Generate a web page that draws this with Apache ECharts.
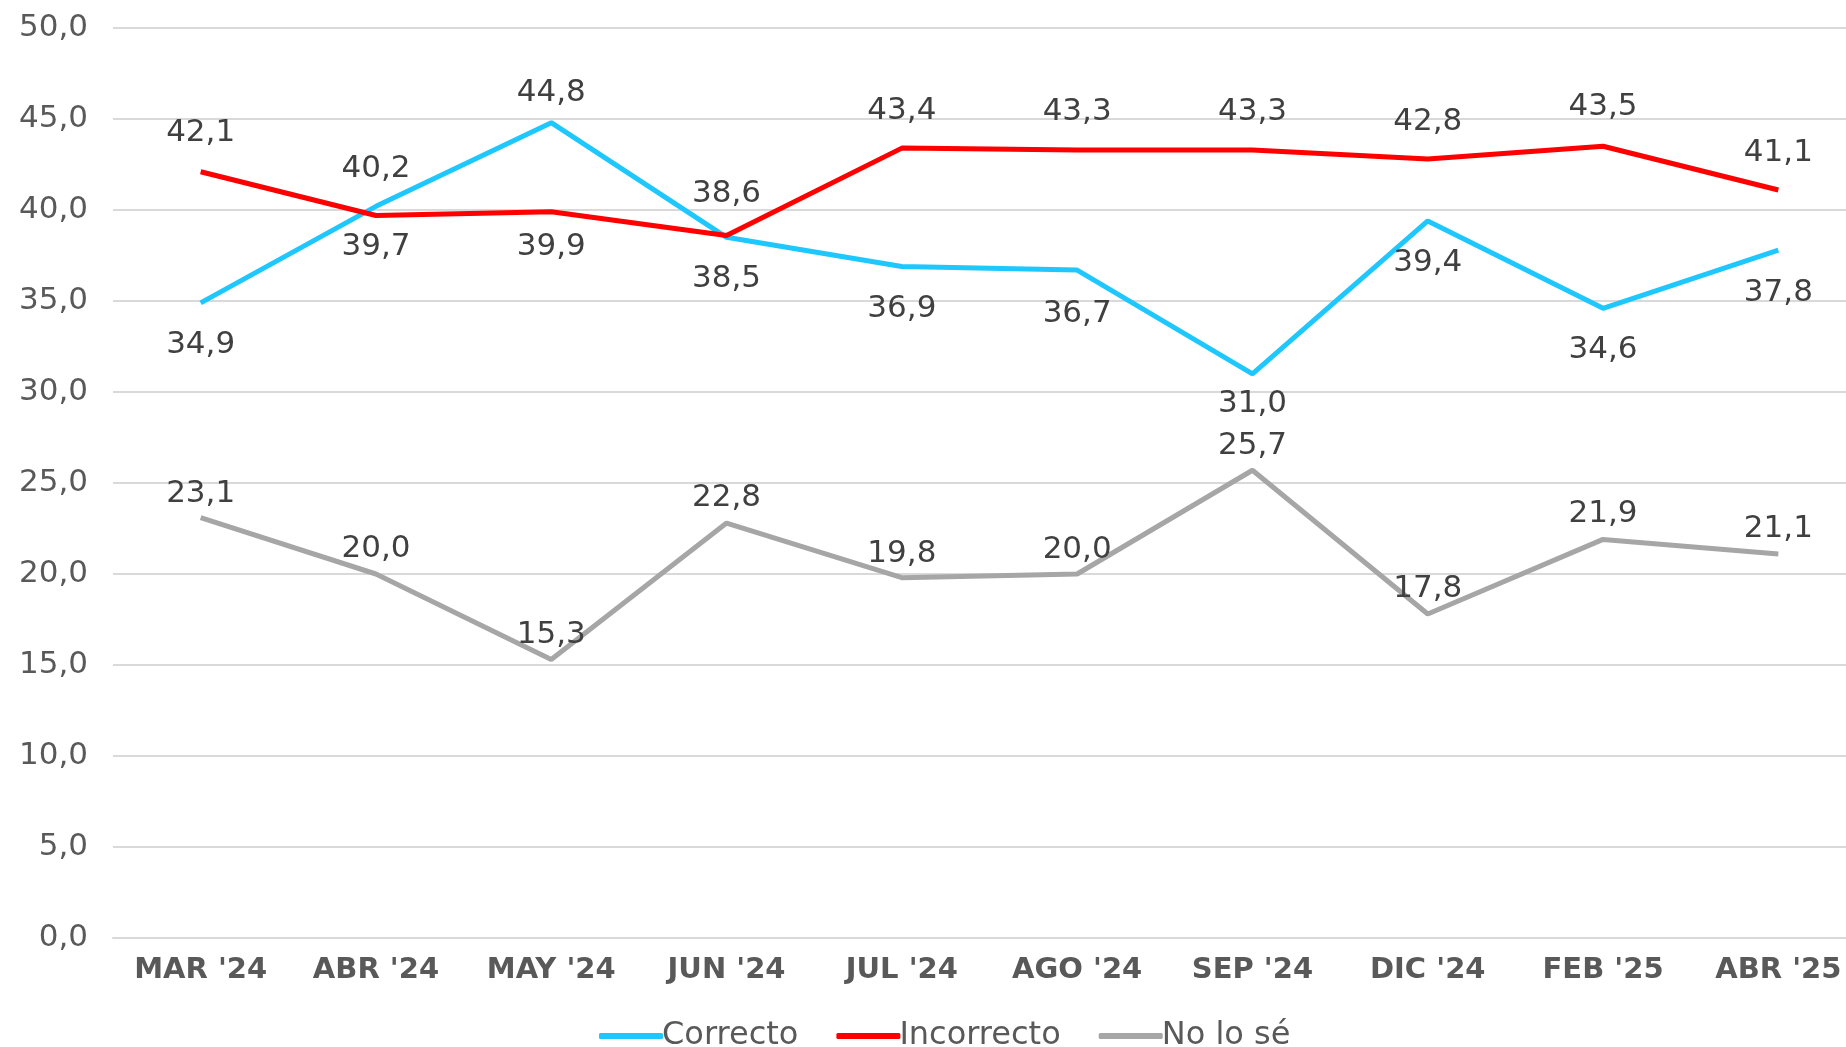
<!DOCTYPE html>
<html>
<head>
<meta charset="utf-8">
<script src="https://cdn.jsdelivr.net/npm/echarts@6/dist/echarts.min.js"></script>
<style>
  html, body { margin: 0; padding: 0; background: #fff; overflow: hidden; }
  /* el gráfico original corta la última categoría por la derecha */
  #chart { width: 1866px; height: 1047px; }
</style>
</head>
<body>
<div id="chart"></div>
<script>
// datos
var meses = ["MAR '24", "ABR '24", "MAY '24", "JUN '24", "JUL '24", "AGO '24", "SEP '24", "DIC '24", "FEB '25", "ABR '25"];
var correcto = [34.9, 40.2, 44.8, 38.5, 36.9, 36.7, 31.0, 39.4, 34.6, 37.8];
var incorrecto = [42.1, 39.7, 39.9, 38.6, 43.4, 43.3, 43.3, 42.8, 43.5, 41.1];
var noLoSe = [23.1, 20.0, 15.3, 22.8, 19.8, 20.0, 25.7, 17.8, 21.9, 21.1];

// etiquetas: lado y separación (px) de cada punto
var posCorrecto = ['bottom', 'top', 'top', 'bottom', 'bottom', 'bottom', 'bottom', 'bottom', 'bottom', 'bottom'];
var sepCorrecto = [27, 22, 14, 26, 27, 28, 15, 27, 26, 27];
var posIncorrecto = ['top', 'bottom', 'bottom', 'top', 'top', 'top', 'top', 'top', 'top', 'top'];
var sepIncorrecto = [23, 16, 20, 26, 22, 22, 22, 22, 24, 22];
var posNoLoSe = ['top', 'top', 'top', 'top', 'top', 'top', 'top', 'top', 'top', 'top'];
var sepNoLoSe = [8, 10, 9, 10, 8, 9, 9, 10, 10, 10];

var fuente = '"DejaVu Sans", sans-serif';

function coma(v) {
  return v.toFixed(1).replace('.', ',');
}

function puntos(vals, pos, sep) {
  return vals.map(function (v, i) {
    return { value: v, label: { position: pos[i], distance: sep[i] } };
  });
}

function serie(nombre, vals, color, pos, sep) {
  return {
    name: nombre,
    type: 'line',
    data: puntos(vals, pos, sep),
    symbol: 'circle',
    symbolSize: 0,
    lineStyle: { color: color, width: 5 },
    itemStyle: { color: color },
    label: {
      show: true,
      fontFamily: fuente,
      fontSize: 31,
      color: '#404040',
      formatter: function (p) { return coma(p.value); }
    }
  };
}

var myChart = echarts.init(document.getElementById('chart'));
myChart.setOption({
  animation: false,
  textStyle: { fontFamily: fuente },
  grid: { left: 113, right: 0, top: 28, bottom: 109 },
  legend: {
    top: 1015,
    left: 594,
    itemWidth: 64,
    itemHeight: 6,
    itemGap: 38,
    textStyle: { fontFamily: fuente, fontSize: 32, color: '#595959', padding: [0, 0, 0, -6] },
    data: [
      { name: 'Correcto', icon: 'roundRect' },
      { name: 'Incorrecto', icon: 'roundRect' },
      { name: 'No lo sé', icon: 'roundRect' }
    ]
  },
  xAxis: {
    type: 'category',
    data: meses,
    boundaryGap: true,
    axisLine: { show: true, lineStyle: { color: '#d9d9d9', width: 2 } },
    axisTick: { show: false },
    axisLabel: {
      margin: 18,
      fontFamily: fuente,
      fontSize: 29,
      fontWeight: 'bold',
      color: '#595959'
    }
  },
  yAxis: {
    type: 'value',
    min: 0,
    max: 50,
    interval: 5,
    axisLine: { show: false },
    axisTick: { show: false },
    splitLine: { lineStyle: { color: '#d9d9d9', width: 2 } },
    axisLabel: {
      margin: 25,
      fontFamily: fuente,
      fontSize: 31,
      color: '#595959',
      formatter: function (v) { return coma(v); }
    }
  },
  series: [
    serie('Correcto', correcto, '#1ec8ff', posCorrecto, sepCorrecto),
    serie('Incorrecto', incorrecto, '#ff0000', posIncorrecto, sepIncorrecto),
    serie('No lo sé', noLoSe, '#a6a6a6', posNoLoSe, sepNoLoSe)
  ]
});
</script>
</body>
</html>
